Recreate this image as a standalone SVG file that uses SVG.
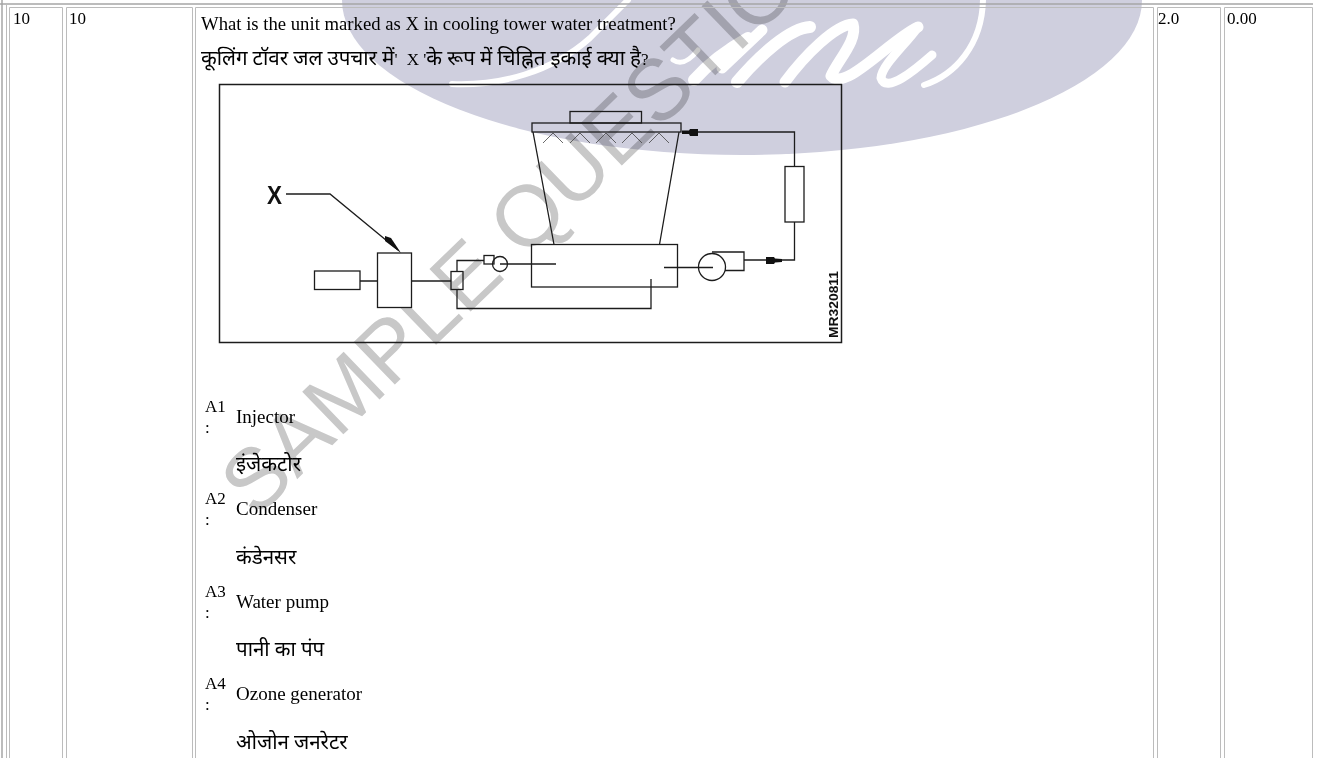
<svg xmlns="http://www.w3.org/2000/svg" width="1320" height="758" viewBox="0 0 1320 758">
<style>
.t{font-family:"Liberation Serif","Noto Sans Devanagari","Noto Sans","DejaVu Sans",serif;font-size:17px;fill:#000}
.h{font-size:20.5px}
.a{font-size:19px}
.c{fill:none;stroke:#bcbcbc;stroke-width:1}
.d{fill:none;stroke:#1c1c1c;stroke-width:1.3}
.dw{fill:#fff;stroke:#1c1c1c;stroke-width:1.3}
.s{fill:none;stroke:#fff;stroke-linecap:round;stroke-linejoin:round}
</style>
<rect width="1320" height="758" fill="#fff"/>
<g id="watermark">
<ellipse cx="742" cy="0" rx="400" ry="155" fill="#cfcfde"/>
<path class="s" stroke-width="6" d="M452 84C500 86 552 72 590 38L628 0"/>
<path class="s" stroke-width="5" d="M673 60C682 66 690 60 698 50"/>
<path class="s" stroke-width="12" d="M694 80C710 62 730 48 748 38"/>
<path class="s" stroke-width="11" d="M722 68L762 30"/>
<path class="s" stroke-width="12" d="M737 82C760 55 790 28 810 27"/>
<path class="s" stroke-width="11" d="M785 82C805 55 835 25 853 24C858 40 838 60 831 76C845 92 890 40 918 27"/>
<path class="s" stroke-width="9" d="M918 27C905 45 882 65 881 78C886 94 915 70 932 55"/>
<path class="s" stroke-width="6" d="M983 0C982 45 955 75 924 85"/>
<text x="255.800" y="519" transform="rotate(-44 255.800 519)" font-family="Liberation Sans, Arial, sans-serif" font-size="86" fill="#c8c8c8" style="mix-blend-mode:multiply">SAMPLE QUESTION</text>
</g>
<g id="table">
<path fill="none" stroke="#a6a6a6" stroke-width="1.500" d="M2 0V758M0 4H1313"/>
<path class="c" d="M6.500 4V758"/>
<path class="c" d="M9.500 758V7.500H62.500V758"/>
<path class="c" d="M66.500 758V7.500H192.500V758"/>
<path class="c" d="M195.500 758V7.500H1153.500V758"/>
<path class="c" d="M1157.500 758V7.500H1220.500V758"/>
<path class="c" d="M1224.500 758V7.500H1312.500V758"/>
</g>
<g id="cells">
<text class="t" x="13" y="24">10</text>
<text class="t" x="69" y="24">10</text>
<text class="t" x="1158" y="24">2.0</text>
<text class="t" x="1227" y="24">0.00</text>
<text class="t" x="201" y="29.500" style="font-size:18.700px">What is the unit marked as X in cooling tower water treatment?</text>
<text class="t h" x="201" y="65">कूलिंग टॉवर जल उपचार में<tspan style="font-size:17px">' <tspan dx="5">X</tspan> '</tspan>के रूप में चिह्नित इकाई क्या है<tspan style="font-size:17px">?</tspan></text>
</g>
<g id="frame"><rect class="d" x="219.500" y="84.500" width="622" height="258" style="stroke-width:1.500"/></g>
<g id="connectors">
<path class="d" d="M286 194H330L398 250"/>
<path d="M385 236L391 238L401 253L385 241Z" fill="#111"/>
<path class="d" d="M360 281H377.500M411.500 281H451"/>
<path class="d" d="M457 271V260.500H484M457 290V308.500H651V279"/>
<path class="d" d="M500 264H556M664 267.500H713"/>
<path class="d" d="M744 260H794.500V222M794.500 166.500V132H682"/>
<path d="M682 130.500L689 130.500L690 129H698V136H690L689 134L682 134Z" fill="#111"/>
<path d="M782 259L775 258.500L774 257H766V264H774L775 262.500L782 262Z" fill="#111"/>
</g>
<g id="tower">
<rect class="d" x="570" y="111.500" width="71.500" height="11.500"/>
<rect class="d" x="532" y="123" width="149" height="9"/>
<path class="d" d="M533 132L554 244.500M679 132L659.500 244.500"/>
<path fill="none" stroke="#444" stroke-width="0.800" d="M543 143L553 133L563 143M570 143L580 133L590 143M596 143L606 133L616 143M622 143L632 133L642 143M649 143L659 133L669 143"/>
</g>
<g id="basin"><rect class="d" x="531.500" y="244.500" width="146" height="42.500"/></g>
<g id="tank"><rect class="dw" x="314.500" y="271" width="45.500" height="18.500"/></g>
<g id="unit-x"><rect class="dw" x="377.500" y="253" width="34" height="54.500"/></g>
<g id="injector"><rect class="d" x="451" y="271.500" width="12" height="18"/></g>
<g id="small-pump"><rect class="d" x="484" y="255.500" width="10" height="8.500"/><circle class="d" cx="500" cy="264" r="7.500"/></g>
<g id="main-pump"><path class="d" d="M712 252H744V270.500H725"/><circle class="d" cx="712" cy="267" r="13.500"/></g>
<g id="filter"><rect class="dw" x="785" y="166.500" width="19" height="55.500"/></g>
<g id="labels">
<text x="267" y="204" font-family="Liberation Sans, Arial, sans-serif" font-weight="700" font-size="25" fill="#111" textLength="15" lengthAdjust="spacingAndGlyphs">X</text>
<text transform="translate(838 338) rotate(-90)" font-family="Liberation Sans, Arial, sans-serif" font-weight="700" font-size="13.500" fill="#111" textLength="67" lengthAdjust="spacingAndGlyphs">MR320811</text>
</g>
<g id="answers">
<text class="t" x="205" y="412">A1</text><text class="t" x="205" y="433">:</text>
<text class="t a" x="236" y="423">Injector</text><text class="t h" x="236" y="471">इंजेकटोर</text>
<text class="t" x="205" y="504">A2</text><text class="t" x="205" y="525">:</text>
<text class="t a" x="236" y="515">Condenser</text><text class="t h" x="236" y="563.500">कंडेनसर</text>
<text class="t" x="205" y="597">A3</text><text class="t" x="205" y="618">:</text>
<text class="t a" x="236" y="607.500">Water pump</text><text class="t h" x="236" y="656">पानी का पंप</text>
<text class="t" x="205" y="689">A4</text><text class="t" x="205" y="710">:</text>
<text class="t a" x="236" y="700">Ozone generator</text><text class="t h" x="236" y="748.500">ओजोन जनरेटर</text>
</g>
</svg>
